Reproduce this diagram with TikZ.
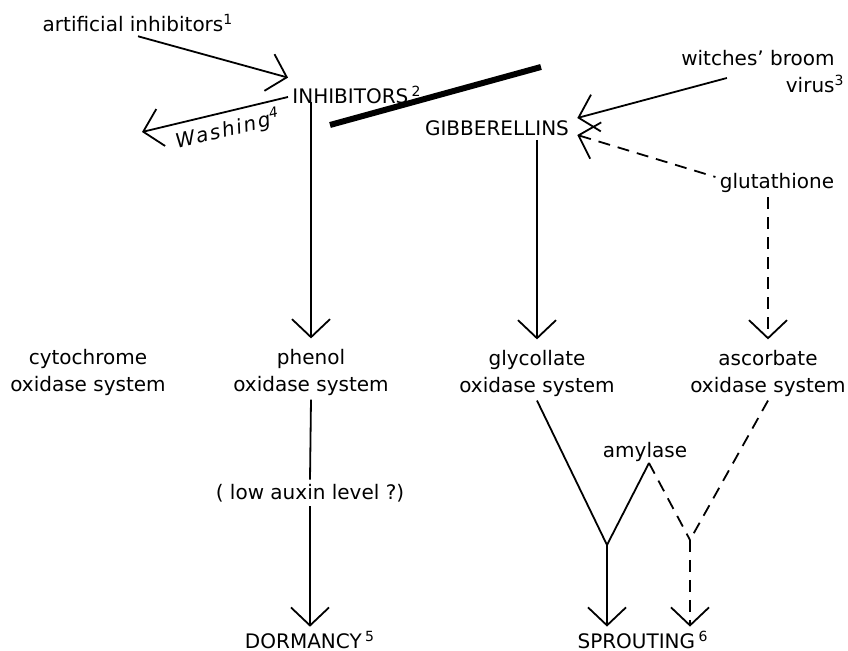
\documentclass[tikz,border=0pt]{standalone}
\usepackage{fontspec}
\setmainfont{DejaVu Sans}
\usetikzlibrary{arrows.meta}

\begin{document}
\begin{tikzpicture}[x=0.5pt,y=-0.5pt,
	lbl/.style={inner sep=2pt,align=center,font=\fontsize{10}{13.5}\selectfont},
	arr/.style={line width=0.9pt,-{Straight Barb[length=9pt,width=19pt,line width=0.9pt]}},
	link/.style={line width=0.9pt},
	dsh/.style={dash pattern=on 6pt off 4pt}]
	\useasboundingbox (0,0) rectangle (848,651);
	% Labels
	\node[lbl] (art) at (138,23) {artificial inhibitors\textsuperscript{1}};
	\node[lbl,anchor=west] (inhib) at (288,95) {INHIBITORS\,\textsuperscript{2}};
	\node[lbl] (gib) at (497,128) {GIBBERELLINS};
	\node[lbl,align=right,anchor=east] (witch) at (839,72) {witches' broom\\virus\rlap{\textsuperscript{3}}};
	\node[lbl] (gluta) at (777,183) {glutathione};
	\node[lbl] (cyto) at (88,372) {cytochrome\\oxidase system};
	\node[lbl] (phenol) at (311,372) {phenol\\oxidase system};
	\node[lbl] (glyco) at (537,373) {glycollate\\oxidase system};
	\node[lbl] (ascorb) at (768,373) {ascorbate\\oxidase system};
	\node[lbl] (auxin) at (310,493) {( low auxin level ?)};
	\node[lbl] (amyl) at (645,452) {amylase};
	\node[lbl] (dorm) at (310,640) {DORMANCY\,\textsuperscript{5}};
	\node[lbl] (sprout) at (643,640) {SPROUTING\,\textsuperscript{6}};
	% Junctions
	\coordinate (apex) at (649,463);
	\coordinate (ja) at (607,545);
	\coordinate (jb) at (690,540);
	\coordinate (wash) at (142,132);
	% Connectors
	\draw[arr] (art.south) -- ([yshift=2pt]inhib.north west);
	\draw[arr] ([yshift=-1pt]inhib.west) -- (wash)
		node[pos=0.44,sloped,below=1pt,lbl,font=\fontsize{10}{12}\selectfont\itshape\addfontfeature{LetterSpace=10},allow upside down=false] {Washing\textsuperscript{4}};
	\draw[line width=3pt] (330,125) -- (541,67);
	\draw[arr] ([yshift=3pt]inhib.south -| phenol.north) -- ([yshift=3pt]phenol.north);
	\draw[link] (phenol.south) -- (auxin.north);
	\draw[arr] (auxin.south) -- (dorm.north -| auxin.south);
	\draw[arr] ([xshift=25pt,yshift=-3pt]witch.west) -- ([xshift=2pt,yshift=5pt]gib.east);
	\draw[arr,dsh,{Straight Barb[length=9pt,width=19pt,line width=0.9pt]}-] ([xshift=2pt,yshift=-3.5pt]gib.east) -- ([yshift=3pt]gluta.west);
	\draw[arr] (gib.south -| glyco.north) -- ([yshift=3pt]glyco.north);
	\draw[arr,dsh] (gluta.south -| ascorb.north) -- ([yshift=3pt]ascorb.north);
	\draw[link] (glyco.south) -- (ja) -- (apex);
	\draw[link,dsh] (apex) -- (jb);
	\draw[link,dsh] (ascorb.south) -- (jb);
	\draw[arr] (ja) -- (ja |- sprout.north);
	\draw[arr,dsh] (jb) -- (jb |- sprout.north);
\end{tikzpicture}
\end{document}
